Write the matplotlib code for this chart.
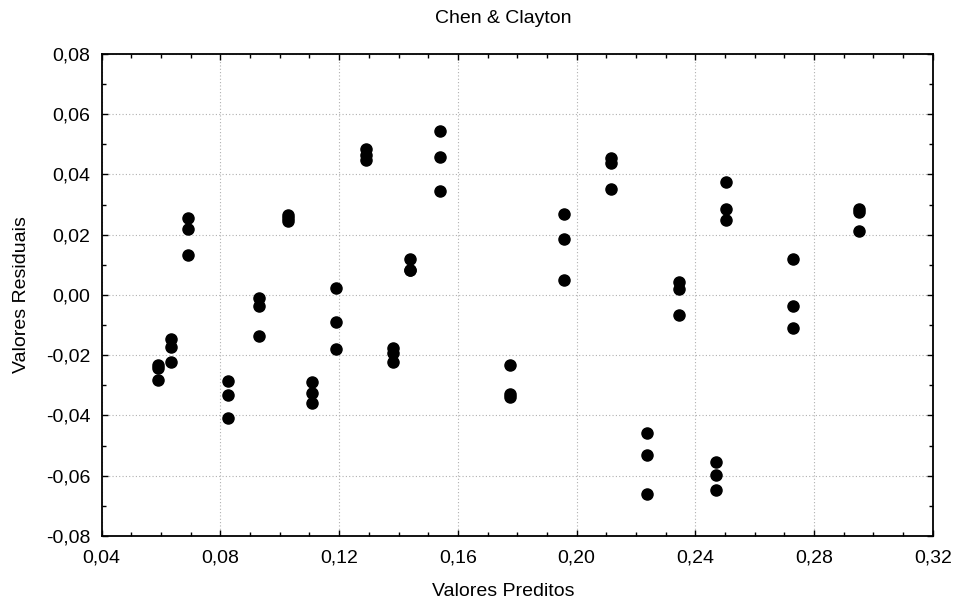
import matplotlib
matplotlib.use("Agg")
import matplotlib.pyplot as plt
from matplotlib.ticker import FuncFormatter, MultipleLocator

# Data -------------------------------------------------
# each predicted value appears with its three residuals
predicted = [0.0591, 0.0633, 0.0692, 0.0826, 0.0931, 0.1028, 0.1109,
             0.1191, 0.1289, 0.1380, 0.1438, 0.1539, 0.1775, 0.1958,
             0.2117, 0.2237, 0.2344, 0.2471, 0.2504, 0.2729, 0.2953]
resid_a = [-0.0232, -0.0146, 0.0254, -0.0284, -0.0010, 0.0265, -0.0289,
           0.0022, 0.0486, -0.0177, 0.0121, 0.0544, -0.0232, 0.0268,
           0.0456, -0.0458, 0.0042, -0.0554, 0.0375, 0.0120, 0.0287]
resid_b = [-0.0241, -0.0171, 0.0219, -0.0331, -0.0035, 0.0255, -0.0326,
           -0.0088, 0.0466, -0.0193, 0.0083, 0.0458, -0.0328, 0.0186,
           0.0438, -0.0532, 0.0019, -0.0598, 0.0284, -0.0036, 0.0274]
resid_c = [-0.0281, -0.0224, 0.0132, -0.0408, -0.0135, 0.0247, -0.0359,
           -0.0180, 0.0447, -0.0221, 0.0083, 0.0345, -0.0339, 0.0050,
           0.0351, -0.0659, -0.0066, -0.0646, 0.0248, -0.0110, 0.0213]

x_ticks = [0.04, 0.08, 0.12, 0.16, 0.20, 0.24, 0.28, 0.32]
y_ticks = [-0.08, -0.06, -0.04, -0.02, 0.00, 0.02, 0.04, 0.06, 0.08]

plt.rcParams["font.family"] = ["Liberation Sans", "DejaVu Sans"]


def comma_fmt(v, pos):
    # decimal comma, plain hyphen for negatives
    return f"{v:.2f}".replace(".", ",")


fig = plt.figure(figsize=(9.57, 6.04), dpi=100)
ax = fig.add_axes([0.1063, 0.1126, 0.8683, 0.798])

for resid in (resid_a, resid_b, resid_c):
    ax.plot(predicted, resid, "o", color="black", markersize=8,
            linestyle="none", zorder=3)

ax.set_xlim(x_ticks[0], x_ticks[-1])
ax.set_ylim(y_ticks[0], y_ticks[-1])
ax.set_xticks(x_ticks)
ax.set_yticks(y_ticks)
ax.xaxis.set_minor_locator(MultipleLocator(0.01))
ax.yaxis.set_minor_locator(MultipleLocator(0.01))
ax.xaxis.set_major_formatter(FuncFormatter(comma_fmt))
ax.yaxis.set_major_formatter(FuncFormatter(comma_fmt))

ax.tick_params(which="both", direction="in", top=True, right=True,
               labelsize=14, width=1, pad=8)
ax.tick_params(axis="x", pad=10)
ax.tick_params(which="major", length=4)
ax.tick_params(which="minor", length=3)

ax.grid(True, which="major", linestyle=(0, (1, 2)), color="#b0b0b0",
        linewidth=0.8)
for sp in ax.spines.values():
    sp.set_linewidth(1.3)

# title and axis labels sit a bit left of the axes centre in the original
ax.set_title("Chen & Clayton", fontsize=14, x=0.483, y=1 + 35 / 482,
             va="center", pad=0)

ax.set_xlabel("Valores Preditos", fontsize=14)
ax.xaxis.set_label_coords(0.483, -0.1156)
ax.xaxis.label.set_va("center")

ax.set_ylabel("Valores Residuais", fontsize=14)
ax.yaxis.set_label_coords(-0.0965, 0.5)
ax.yaxis.label.set_va("center")

fig.savefig("out.png", dpi=100)
